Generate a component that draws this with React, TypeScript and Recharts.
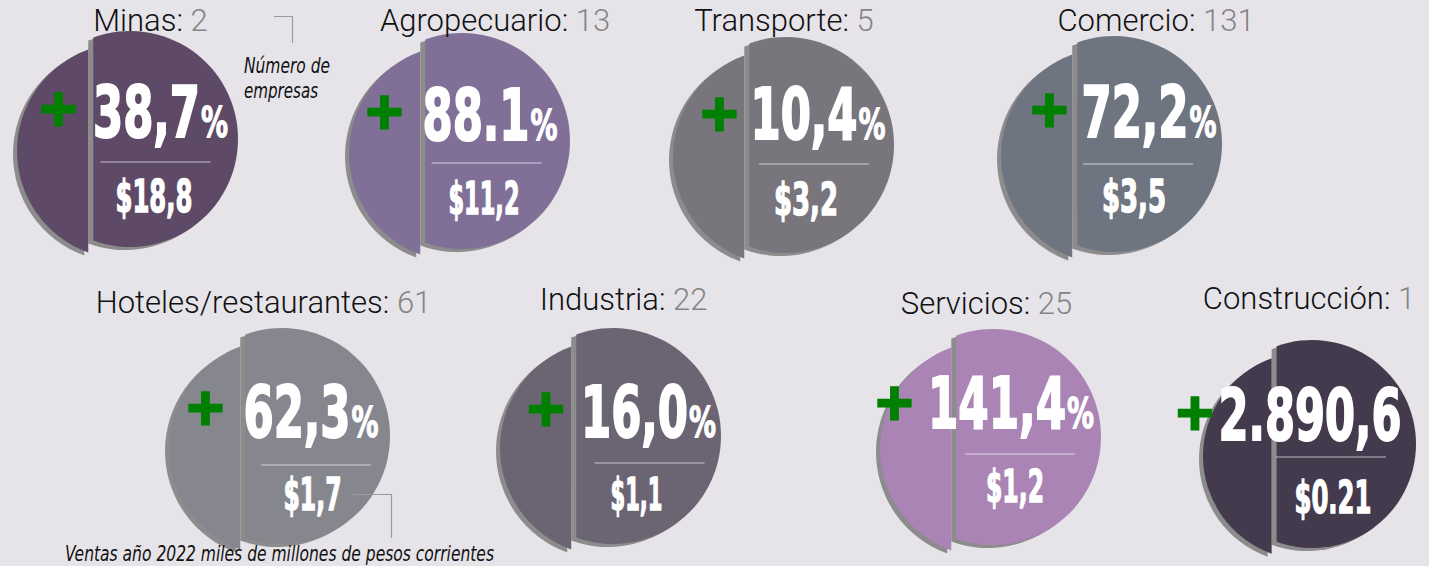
import React from 'react';
import { ScatterChart, Scatter, XAxis, YAxis } from 'recharts';

// ---- data ----
const sectores = ['Minas', 'Agropecuario', 'Transporte', 'Comercio', 'Hoteles/restaurantes', 'Industria', 'Servicios', 'Construcción'];
const empresas = [2, 13, 5, 131, 61, 22, 25, 1];
const crecimiento = [38.7, 88.1, 10.4, 72.2, 62.3, 16.0, 141.4, 2890.6];
const crecimientoEtiquetas = ['38,7', '88.1', '10,4', '72,2', '62,3', '16,0', '141,4', '2.890,6'];
const conPorcentaje = [true, true, true, true, true, true, true, false];
const ventas = [18.8, 11.2, 3.2, 3.5, 1.7, 1.1, 1.2, 0.21];
const ventasEtiquetas = ['$18,8', '$11,2', '$3,2', '$3,5', '$1,7', '$1,1', '$1,2', '$0.21'];

// ---- layout (positions / sizes / styles) ----
const centroX = [130, 462, 786, 1114, 282, 613, 993, 1312];
const centroY = [139, 141, 145, 144, 436, 436, 437, 444];
const radio = [108, 108, 108, 108, 108, 108, 108, 104];
const tituloX = [150.5, 495, 784, 1156, 263.5, 623.5, 986.5, 1309];
const tituloY = [31, 31, 31, 31, 313, 310, 314, 309];
const colores = ['#5e4a66', '#806f97', '#78757c', '#6f7580', '#86868e', '#6b6573', '#a984b5', '#443a4e'];
// [pctDx, pctDy, plusDx, plusDy, divDx, divDy, salesDx, salesDy]
const offsets = [
  [30.5, -2, -71.5, -31.5, 25.5, 23, 24, 73],
  [28, -1, -77.5, -30, 24.5, 22, 22, 73],
  [32, -6, -66.5, -32, 28, 19, 20, 70],
  [35, -7, -64.5, -35, 24, 20, 20, 68],
  [29, 1, -76.5, -29, 34, 29, 30.5, 74],
  [35.5, 1, -67, -28, 36.5, 27, 23.5, 74],
  [18, -9, -98.5, -35, 27, 17, 22, 65],
  [-2, -4, -117, -32, 19, 13, 21, 69],
];

const BG = '#e6e4e9';
const SHADOW = '#8c8c8c';
const NARROW = '"Liberation Sans Narrow", "Arial Narrow", "DejaVu Sans Condensed", "DejaVu Sans", sans-serif';
const LIGHT = 'Roboto, "Helvetica Neue", "Liberation Sans", sans-serif';

// condensed glyph widths for the white numbers
const bigWidth = (ch: string) => (ch === ',' || ch === '.' ? 14 : 31);
const BIG_PCT = 28;
const smallWidth = (ch: string) => (ch === ',' || ch === '.' ? 8 : ch === '1' ? 13 : ch === '$' ? 18 : 19);
const textWidth = (s: string, f: (c: string) => number) => s.split('').reduce((acc, ch) => acc + f(ch), 0);

const data = sectores.map((s, i) => ({
  sector: s,
  empresas: empresas[i],
  crecimiento: crecimiento[i],
  crecimientoEtiqueta: crecimientoEtiquetas[i],
  conPorcentaje: conPorcentaje[i],
  ventas: ventas[i],
  ventasEtiqueta: ventasEtiquetas[i],
  x: centroX[i],
  y: centroY[i],
  idx: i,
}));

function SplitCircle(props: any) {
  const { cx, cy, payload } = props;
  if (cx == null || cy == null || !payload) return null;
  const i = payload.idx;
  const r = radio[i];
  const d = r * 0.34;
  const h = Math.sqrt(r * r - d * d);
  const sx = cx - d;
  const y1 = cy - h;
  const y2 = cy + h;
  const right = `M ${sx} ${y1} A ${r} ${r} 0 1 1 ${sx} ${y2} Z`;
  const left = `M ${sx} ${y1} A ${r} ${r} 0 0 0 ${sx} ${y2} Z`;
  const color = colores[i];
  const o = offsets[i];
  const px = cx + o[0];
  const py = cy + o[1];
  const digitsW = textWidth(payload.crecimientoEtiqueta, bigWidth);
  const totalW = digitsW + (payload.conPorcentaje ? BIG_PCT : 0);
  const left0 = px - totalW / 2;
  const salesW = textWidth(payload.ventasEtiqueta, smallWidth);
  const sX = cx + o[6];
  const sY = cy + o[7];
  return (
    <g>
      <path d={right} fill={SHADOW} transform="translate(-5,3)" />
      <path d={right} fill={color} />
      <path d={left} fill={SHADOW} transform="translate(-9,15)" />
      <path d={left} fill={color} transform="translate(-5,12)" />
      <text x={tituloX[i]} y={tituloY[i]} textAnchor="middle" fontFamily={LIGHT} fontWeight={300} fontSize={31} fill="#111">
        {payload.sector}: <tspan fill="#858585">{payload.empresas}</tspan>
      </text>
      <text x={cx + o[2]} y={cy + o[3] + 17} textAnchor="middle" fontFamily='"DejaVu Sans", sans-serif' fontWeight="bold" fontSize={50} fill="#008000" stroke="#008000" strokeWidth={3}>+</text>
      <text x={left0} y={py} fontFamily={NARROW} fontWeight="bold" fontSize={72} fill="#fff" stroke="#fff" strokeWidth={2} textLength={digitsW} lengthAdjust="spacingAndGlyphs">
        {payload.crecimientoEtiqueta}
      </text>
      {payload.conPorcentaje ? (
        <text x={left0 + digitsW + 1} y={py} fontFamily={NARROW} fontWeight="bold" fontSize={42} fill="#fff" stroke="#fff" strokeWidth={1.2} textLength={BIG_PCT - 1} lengthAdjust="spacingAndGlyphs">%</text>
      ) : null}
      <line x1={cx + o[4] - 55} x2={cx + o[4] + 55} y1={cy + o[5]} y2={cy + o[5]} stroke="#ffffff" strokeOpacity={0.65} strokeWidth={1.2} />
      <text x={sX - salesW / 2} y={sY} fontFamily={NARROW} fontWeight="bold" fontSize={44} fill="#fff" stroke="#fff" strokeWidth={1.3} textLength={salesW} lengthAdjust="spacingAndGlyphs">
        {payload.ventasEtiqueta}
      </text>
    </g>
  );
}

export default function App() {
  return (
    <div style={{ position: 'absolute', left: 0, top: 0, width: 1429, height: 566, background: BG, overflow: 'hidden' }}>
      <ScatterChart width={1429} height={566} margin={{ top: 0, right: 0, bottom: 0, left: 0 }}>
        <XAxis type="number" dataKey="x" domain={[0, 1429]} hide />
        <YAxis type="number" dataKey="y" domain={[0, 566]} reversed hide />
        <Scatter data={data} shape={SplitCircle} isAnimationActive={false} />
      </ScatterChart>
      <svg width={1429} height={566} style={{ position: 'absolute', left: 0, top: 0, pointerEvents: 'none' }}>
        <polyline points="274,16.5 292.5,16.5 292.5,43" fill="none" stroke="#9a9a9a" strokeWidth={1.2} />
        <text x={244} y={73} fontFamily={NARROW} fontStyle="italic" fontSize={21} fill="#111" textLength={86} lengthAdjust="spacingAndGlyphs">Número de</text>
        <text x={244} y={98} fontFamily={NARROW} fontStyle="italic" fontSize={21} fill="#111" textLength={74} lengthAdjust="spacingAndGlyphs">empresas</text>
        <polyline points="353,494.5 391.5,494.5 391.5,538" fill="none" stroke="#9a9a9a" strokeWidth={1.2} />
        <text x={65} y={561} fontFamily={NARROW} fontStyle="italic" fontSize={21} fill="#111" textLength={429} lengthAdjust="spacingAndGlyphs">Ventas año 2022 miles de millones de pesos corrientes</text>
      </svg>
    </div>
  );
}
